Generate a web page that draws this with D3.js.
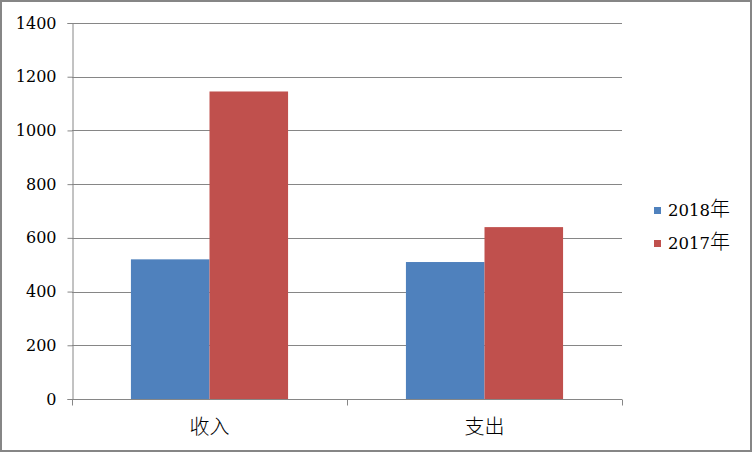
<!DOCTYPE html>
<html><head><meta charset="utf-8">
<script src="https://cdn.jsdelivr.net/npm/d3@7"></script>
<style>
html,body{margin:0;padding:0;background:#fff;}
svg{display:block;}
.serif{font-family:"DejaVu Serif","Liberation Serif","Noto Sans CJK SC",serif;}
</style>
</head><body>
<svg id="c" width="752" height="452"></svg>
<script>
const categories = ["收入", "支出"];
const seriesNames = ["2018年", "2017年"];
const values2018 = [520, 510];
const values2017 = [1145, 640];
const yTicks = [0, 200, 400, 600, 800, 1000, 1200, 1400];
const colors = ["#4F81BD", "#C0504D"];

const seriesValues = [values2018, values2017];
const svg = d3.select("#c");
const W = 752, H = 452;
const m = {left: 72, right: 130, top: 23, bottom: 53};

svg.append("rect").attr("x", 1).attr("y", 1).attr("width", W - 2).attr("height", H - 2)
  .attr("fill", "#fff").attr("stroke", "#868686").attr("stroke-width", 2);

const x0 = d3.scaleBand().domain(categories).range([m.left, W - m.right]).padding(0);
const x1 = d3.scaleBand().domain(seriesNames).range([0, x0.bandwidth()]).paddingInner(0).paddingOuter(0.75);
const y = d3.scaleLinear().domain([0, 1400]).range([H - m.bottom, m.top]);

const g = svg.append("g");
g.selectAll(".grid").data(yTicks.filter(d => d > 0)).join("line")
  .attr("x1", m.left).attr("x2", W - m.right)
  .attr("y1", d => Math.round(y(d)) + 0.5).attr("y2", d => Math.round(y(d)) + 0.5)
  .attr("stroke", "#868686").attr("stroke-width", 1);

const rows = categories.map((c, i) => ({c, vals: seriesNames.map((s, j) => ({s, j, v: seriesValues[j][i]}))}));
g.selectAll(".grp").data(rows).join("g")
  .attr("transform", d => `translate(${x0(d.c)},0)`)
  .selectAll("rect").data(d => d.vals).join("rect")
  .attr("x", d => x1(d.s)).attr("width", x1.bandwidth())
  .attr("y", d => y(d.v)).attr("height", d => y(0) - y(d.v))
  .attr("fill", d => colors[d.j]);

const yAxis = d3.axisLeft(y).tickValues(yTicks).tickSize(5).tickPadding(11).tickFormat(d3.format("d"));
const ya = svg.append("g").attr("transform", `translate(${m.left + 0.5},0)`).call(yAxis)
  .attr("font-family", null).attr("font-size", null).attr("class", "serif");
ya.select(".domain").attr("stroke", "#868686");
ya.selectAll(".tick line").attr("stroke", "#868686");
ya.selectAll(".tick text").attr("fill", "#000").attr("font-size", 16);

const xa = svg.append("g").attr("transform", `translate(0,${Math.round(y(0)) + 0.5})`);
xa.append("line").attr("x1", m.left).attr("x2", W - m.right).attr("stroke", "#868686");
const xt = [m.left, m.left + x0.bandwidth(), W - m.right];
xa.selectAll(".xt").data(xt).join("line")
  .attr("x1", d => Math.round(d) + 0.5).attr("x2", d => Math.round(d) + 0.5)
  .attr("y1", 0).attr("y2", 6).attr("stroke", "#868686");
xa.selectAll("text").data(categories).join("text")
  .attr("x", d => x0(d) + x0.bandwidth() / 2).attr("y", 34)
  .attr("text-anchor", "middle").attr("fill", "#000")
  .attr("font-family", "Noto Sans CJK SC").attr("font-size", 20).attr("font-weight", 300)
  .text(d => d);

const lg = svg.append("g").attr("class", "serif");
const ly = [210, 243];
seriesNames.forEach((s, i) => {
  lg.append("rect").attr("x", 654).attr("y", ly[i] - 3).attr("width", 7).attr("height", 7).attr("fill", colors[i]);
  const t = lg.append("text").attr("x", 668).attr("y", ly[i]).attr("dy", "0.36em").attr("fill", "#000");
  const parts = s.match(/(\d+)(.*)/);
  t.append("tspan").attr("font-size", 16.5).text(parts[1]);
  t.append("tspan").attr("font-family", "Noto Sans CJK SC").attr("font-weight", 300).attr("font-size", 20).text(parts[2]);
});
</script>
</body></html>
